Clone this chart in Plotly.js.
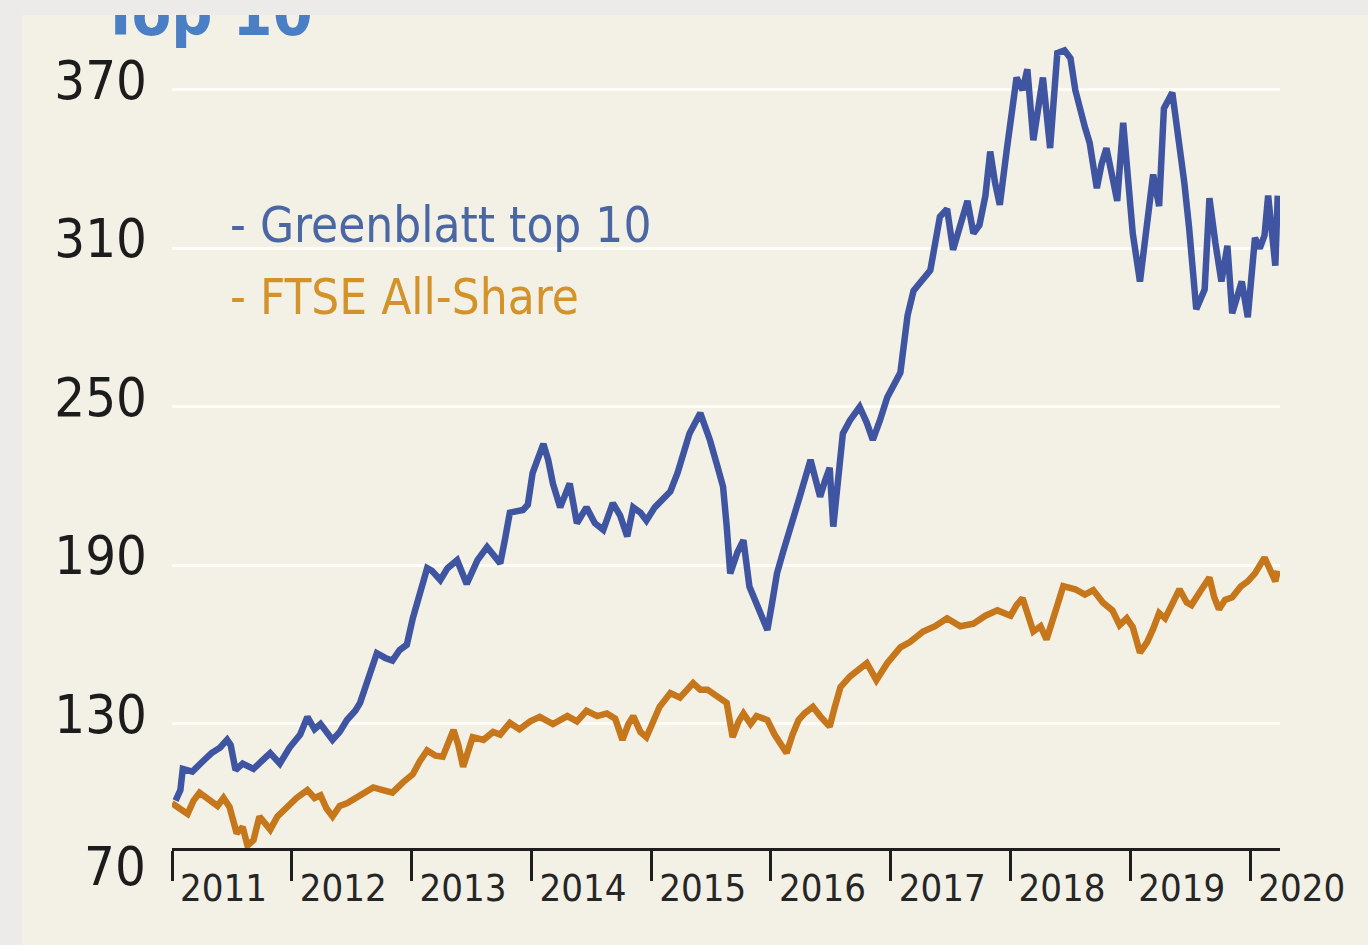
<!DOCTYPE html>
<html>
<head>
<meta charset="utf-8">
<script src="https://cdn.plot.ly/plotly-3.0.1.min.js"></script>
<style>
  html, body { margin: 0; padding: 0; width: 1368px; height: 945px; overflow: hidden; background: #ecebea; }
  #chart { position: absolute; left: 22px; top: 15px; width: 1346px; height: 930px; }
</style>
</head>
<body>
<div id="chart"></div>
<script>
// ---- Data ----
const greenblattDates = [
  2011.03, 2011.07, 2011.09, 2011.17, 2011.26, 2011.33, 2011.40, 2011.46, 2011.49, 2011.53, 2011.59, 2011.68, 2011.75, 2011.82, 2011.90, 2011.98,
  2012.07, 2012.13, 2012.19, 2012.24, 2012.34, 2012.40, 2012.46, 2012.53, 2012.57, 2012.64, 2012.71, 2012.78, 2012.84, 2012.90, 2012.96,
  2013.01, 2013.07, 2013.13, 2013.17, 2013.24, 2013.30, 2013.38, 2013.46, 2013.55, 2013.63, 2013.68, 2013.74, 2013.78, 2013.82, 2013.93, 2013.97,
  2014.01, 2014.06, 2014.10, 2014.14, 2014.18, 2014.24, 2014.32, 2014.38, 2014.46, 2014.53, 2014.60, 2014.68, 2014.74, 2014.80, 2014.85, 2014.91, 2014.96,
  2015.03, 2015.10, 2015.16, 2015.22, 2015.27, 2015.32, 2015.41, 2015.45, 2015.49, 2015.55, 2015.60, 2015.63, 2015.66, 2015.72, 2015.77, 2015.82, 2015.89, 2015.97,
  2016.01, 2016.05, 2016.10, 2016.16, 2016.24, 2016.33, 2016.37, 2016.41, 2016.45, 2016.49, 2016.52, 2016.56, 2016.60, 2016.66, 2016.74, 2016.80, 2016.85, 2016.91, 2016.97,
  2017.08, 2017.14, 2017.19, 2017.26, 2017.33, 2017.41, 2017.47, 2017.52, 2017.58, 2017.64, 2017.69, 2017.74, 2017.79, 2017.83, 2017.87, 2017.91, 2017.97,
  2018.01, 2018.05, 2018.10, 2018.14, 2018.19, 2018.23, 2018.27, 2018.33, 2018.36, 2018.39, 2018.45, 2018.50, 2018.54, 2018.58, 2018.62, 2018.66, 2018.72, 2018.76, 2018.80, 2018.85, 2018.89, 2018.94, 2018.98,
  2019.02, 2019.08, 2019.13, 2019.19, 2019.24, 2019.28, 2019.35, 2019.41, 2019.45, 2019.49, 2019.55, 2019.62, 2019.66, 2019.71, 2019.76, 2019.81, 2019.85, 2019.93, 2019.98,
  2020.04, 2020.08, 2020.12, 2020.15, 2020.21, 2020.23
];
const greenblattValues = [
  101, 105, 113, 112, 116, 119, 121, 124, 122, 112.6, 115, 113, 116, 119, 115, 121,
  126, 132.7, 128, 130, 124, 127, 131.5, 135, 138, 147, 156.8, 155, 154, 158, 160,
  170, 180.7, 189, 188, 184.5, 189, 192, 183, 192, 197, 194, 190.8, 200, 210, 211, 213,
  225, 232, 236, 230, 221, 212, 221, 206, 212, 206, 203.5, 213.6, 209, 201, 212, 210, 207,
  212, 215, 218, 225, 233.7, 240, 247.7, 243, 237.5, 228, 219.8, 205, 187, 195, 199.6, 182, 174, 165.6,
  176, 187, 195, 203.5, 216, 230, 222, 216, 222, 227, 204.7, 222, 240, 245, 250, 244, 237.5, 245, 253.6,
  263, 284.6, 294, 298, 301.7, 322, 325, 309.5, 318, 328, 315.7, 318.8, 330, 346.7, 335, 326.5, 348,
  362, 374.7, 370, 377.8, 351, 365, 374.7, 348, 366, 384, 385, 382, 370, 362, 356, 350, 332.8, 342, 348, 337, 328, 357.6, 335,
  315.7, 297.5, 318, 338, 326, 363, 369, 351, 335, 318, 287, 294.5, 329, 312, 297.5, 311, 285.5, 297.5, 284,
  314, 310, 315, 330, 303.5, 330
];

const ftseDates = [
  2011.00, 2011.07, 2011.13, 2011.18, 2011.23, 2011.32, 2011.38, 2011.43, 2011.48, 2011.54, 2011.59, 2011.63, 2011.68, 2011.73, 2011.78, 2011.82, 2011.88, 2011.96,
  2012.04, 2012.13, 2012.19, 2012.24, 2012.29, 2012.34, 2012.40, 2012.46, 2012.53, 2012.59, 2012.68, 2012.76, 2012.84, 2012.93,
  2013.01, 2013.07, 2013.13, 2013.20, 2013.26, 2013.35, 2013.39, 2013.43, 2013.47, 2013.51, 2013.60, 2013.68, 2013.74, 2013.82, 2013.90, 2013.99,
  2014.07, 2014.18, 2014.30, 2014.38, 2014.46, 2014.55, 2014.63, 2014.70, 2014.76, 2014.81, 2014.85, 2014.91, 2014.96,
  2015.02, 2015.07, 2015.16, 2015.24, 2015.35, 2015.41, 2015.47, 2015.57, 2015.63, 2015.68, 2015.73, 2015.77, 2015.83, 2015.88, 2015.97,
  2016.03, 2016.09, 2016.13, 2016.18, 2016.23, 2016.28, 2016.35, 2016.41, 2016.49, 2016.53, 2016.58, 2016.66, 2016.74, 2016.80, 2016.88, 2016.97,
  2017.08, 2017.16, 2017.27, 2017.37, 2017.47, 2017.58, 2017.69, 2017.79, 2017.89,
  2018.00, 2018.05, 2018.10, 2018.14, 2018.19, 2018.25, 2018.30, 2018.37, 2018.44, 2018.54, 2018.62, 2018.69, 2018.77, 2018.85, 2018.91, 2018.97,
  2019.02, 2019.08, 2019.14, 2019.19, 2019.24, 2019.29, 2019.35, 2019.41, 2019.47, 2019.51, 2019.58, 2019.66, 2019.70, 2019.74, 2019.79, 2019.85, 2019.92, 2019.98,
  2020.04, 2020.08, 2020.12, 2020.16, 2020.21, 2020.23
];
const ftseValues = [
  100, 98, 96, 101, 104, 101, 99, 102, 98.6, 88.6, 91, 84, 86, 95, 92, 90, 95, 98.6,
  102, 105, 102, 103, 98, 95, 99, 100, 102, 104, 106, 105, 104, 108,
  111, 116, 120, 118, 117.6, 127.7, 122, 113.8, 120, 125, 124, 127, 126, 130.4, 128, 131,
  132.7, 130, 133, 131, 135, 133, 134, 132, 124, 130, 133, 127, 125,
  131, 136.5, 141.7, 140, 145.5, 143, 143, 140.3, 138, 125, 131, 134, 130, 133, 131.5,
  126, 122, 119, 126, 131.5, 134, 136.5, 133, 129, 136, 144, 148, 151, 153, 146.6, 153,
  159, 161, 165, 167, 170, 167, 168, 171, 173,
  171, 175, 177.6, 172, 165, 167, 162, 172, 182.2, 181, 179, 180.7, 176, 173, 167.4, 170,
  166.7, 157, 161, 166, 172, 170, 176, 181, 176, 175, 180, 185.4, 178, 173.4, 177, 178, 182, 184,
  187, 190, 193, 189, 184, 188
];

const yearTicks = [2011, 2012, 2013, 2014, 2015, 2016, 2017, 2018, 2019, 2020];
const yearLabels = ['2011', '2012', '2013', '2014', '2015', '2016', '2017', '2018', '2019', '2020'];
const yTicks = [130, 190, 250, 310, 370];
const yTickLabels = ['130', '190', '250', '310', '370'];
const seriesNames = ['Greenblatt top 10', 'FTSE All-Share'];
const titleText = 'Top 10';
const baseLabel = '70';

// ---- Styling ----
const FONT = '"Liberation Sans Narrow", "DejaVu Sans Condensed", "Roboto Condensed", "Liberation Sans", sans-serif';
const BLUE = '#3f55a1';
const ORANGE = '#c6771b';
const BG = '#f3f1e6';

const traces = [
  {
    x: greenblattDates, y: greenblattValues, type: 'scatter', mode: 'lines',
    name: seriesNames[0], line: { color: BLUE, width: 6.5, shape: 'linear' }, hoverinfo: 'x+y'
  },
  {
    x: ftseDates, y: ftseValues, type: 'scatter', mode: 'lines',
    name: seriesNames[1], line: { color: ORANGE, width: 6.5, shape: 'linear' }, hoverinfo: 'x+y'
  }
];

const layout = {
  width: 1346, height: 930,
  margin: { l: 150, r: 88, t: 15, b: 97 },
  paper_bgcolor: BG, plot_bgcolor: BG,
  showlegend: false,
  font: { family: FONT, color: '#1c1c1c' },
  xaxis: {
    type: 'linear', range: [2011, 2020.249], fixedrange: true,
    tickmode: 'array', tickvals: yearTicks, ticktext: yearLabels,
    ticks: 'outside', ticklen: 30, tickwidth: 3, tickcolor: '#1e1e1e',
    showline: true, linewidth: 3, linecolor: '#1e1e1e',
    showgrid: false, zeroline: false,
    ticklabelposition: 'outside right', ticklabelshift: 5, ticklabelstandoff: 4,
    tickfont: { family: FONT, size: 38, color: '#262626' }
  },
  yaxis: {
    range: [83.06, 392.7], fixedrange: true,
    tickmode: 'array', tickvals: yTicks, ticktext: yTickLabels,
    ticks: '', showline: false, zeroline: false,
    showgrid: true, gridcolor: '#fdfcf7', gridwidth: 3,
    ticklabelshift: -10, ticklabelstandoff: 24,
    tickfont: { family: FONT, size: 54, color: '#1c1c1c' }
  },
  annotations: [
    {
      text: baseLabel, xref: 'paper', yref: 'paper', x: 0, y: -0.0226, xanchor: 'right', yanchor: 'middle',
      xshift: -24, showarrow: false,
      font: { family: FONT, size: 54, color: '#1c1c1c' }
    },
    {
      text: '- ' + seriesNames[0], xref: 'paper', yref: 'paper', x: 0.0505, y: 0.7616,
      xanchor: 'left', yanchor: 'middle', showarrow: false,
      font: { family: FONT, size: 49, color: '#4a66a3' }
    },
    {
      text: '- ' + seriesNames[1], xref: 'paper', yref: 'paper', x: 0.0505, y: 0.6724,
      xanchor: 'left', yanchor: 'middle', showarrow: false,
      font: { family: FONT, size: 49, color: '#d3932a' }
    },
    {
      text: '<b>' + titleText + '</b>', xref: 'paper', yref: 'paper', x: -0.066, y: 1.021,
      xanchor: 'left', yanchor: 'middle', showarrow: false,
      font: { family: FONT, size: 64, color: '#4a7fc6' }
    }
  ]
};

Plotly.newPlot('chart', traces, layout, { displayModeBar: false, staticPlot: true });
</script>
</body>
</html>
